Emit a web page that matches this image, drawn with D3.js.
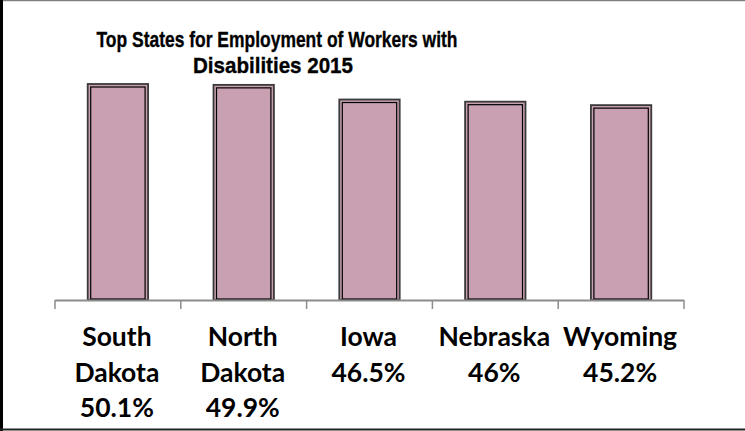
<!DOCTYPE html>
<html>
<head>
<meta charset="utf-8">
<script src="https://cdn.jsdelivr.net/npm/d3@7"></script>
<style>
  html, body { margin: 0; padding: 0; background: #fff; }
  svg { display: block; }
</style>
</head>
<body>
<svg id="chart" width="745" height="431"></svg>
<script>
// ---- data ----
const titleLines = ["Top States for Employment of Workers with", "Disabilities 2015"];
const states = ["South Dakota", "North Dakota", "Iowa", "Nebraska", "Wyoming"];
const values = [50.1, 49.9, 46.5, 46, 45.2];
const valueLabels = ["50.1%", "49.9%", "46.5%", "46%", "45.2%"];
const labelLines = [["South", "Dakota", "50.1%"], ["North", "Dakota", "49.9%"], ["Iowa", "46.5%"], ["Nebraska", "46%"], ["Wyoming", "45.2%"]];

const svg = d3.select("#chart");
const W = 745, H = 431;

// frame
svg.append("line").attr("x1", 0).attr("x2", W).attr("y1", 0.5).attr("y2", 0.5)
  .attr("stroke", "#808080").attr("stroke-width", 1.5);
svg.append("line").attr("x1", 1.5).attr("x2", 1.5).attr("y1", 0).attr("y2", H)
  .attr("stroke", "#000").attr("stroke-width", 3);
svg.append("line").attr("x1", 0).attr("x2", W).attr("y1", 429.5).attr("y2", 429.5)
  .attr("stroke", "#222").attr("stroke-width", 2);

const baseY = 300;
const x = d3.scaleBand().domain(states).range([55, 684]).paddingInner(0.52).paddingOuter(0.26);
const y = d3.scaleLinear().domain([0, 60]).range([baseY, baseY - 60 * (216 / 50.1)]);

// bars
const g = svg.append("g");
const bars = g.selectAll("g.bar").data(states).join("g").attr("class", "bar");
bars.append("rect")
  .attr("x", d => x(d))
  .attr("y", (d, i) => y(values[i]))
  .attr("width", x.bandwidth())
  .attr("height", (d, i) => y(0) - y(values[i]))
  .attr("fill", "#C8A0B2")
  .attr("stroke", "#3a3a3a")
  .attr("stroke-width", 1.8);
bars.append("rect")
  .attr("x", d => x(d) + 3)
  .attr("y", (d, i) => y(values[i]) + 3)
  .attr("width", x.bandwidth() - 6)
  .attr("height", (d, i) => y(0) - y(values[i]) - 4)
  .attr("fill", "none")
  .attr("stroke", "#000")
  .attr("stroke-width", 1.2);

// axis line + ticks at band boundaries
const step = x.step();
const x0 = 55;
svg.append("line").attr("x1", x0).attr("x2", x0 + step * states.length)
  .attr("y1", baseY + 0.5).attr("y2", baseY + 0.5)
  .attr("stroke", "#8c8c8c").attr("stroke-width", 2);
d3.range(states.length + 1).forEach(i => {
  svg.append("line").attr("x1", x0 + i * step).attr("x2", x0 + i * step)
    .attr("y1", baseY).attr("y2", baseY + 9)
    .attr("stroke", "#8c8c8c").attr("stroke-width", 1.5);
});

// category labels
const labFont = "Lato, 'Open Sans', sans-serif";
const lab = svg.append("g").attr("font-family", labFont).attr("font-weight", "bold")
  .attr("fill", "#000").attr("text-anchor", "middle");
const probe = lab.append("text").attr("font-size", 24).text("Wyoming");
const fs = 24 * 114 / probe.node().getComputedTextLength();
probe.remove();
const lineBase = [346, 382, 417];
labelLines.forEach((lines, i) => {
  const cx = x(states[i]) + x.bandwidth() / 2 - 1;
  lines.forEach((t, j) => {
    lab.append("text").attr("x", cx).attr("y", lineBase[j]).attr("font-size", fs).text(t);
  });
});

// title (condensed bold sans, squeezed to the reference width)
const tg = svg.append("g").attr("font-family", "'Liberation Sans', Arial, sans-serif")
  .attr("font-weight", "bold").attr("text-anchor", "middle").attr("fill", "#000")
  .attr("stroke", "#000").attr("stroke-width", 0.35);
tg.append("text").attr("x", 277).attr("y", 47).attr("font-size", 22.5)
  .attr("textLength", 361).attr("lengthAdjust", "spacingAndGlyphs").text(titleLines[0]);
tg.append("text").attr("x", 273).attr("y", 73).attr("font-size", 22.5)
  .attr("textLength", 160).attr("lengthAdjust", "spacingAndGlyphs").text(titleLines[1]);
</script>
</body>
</html>
